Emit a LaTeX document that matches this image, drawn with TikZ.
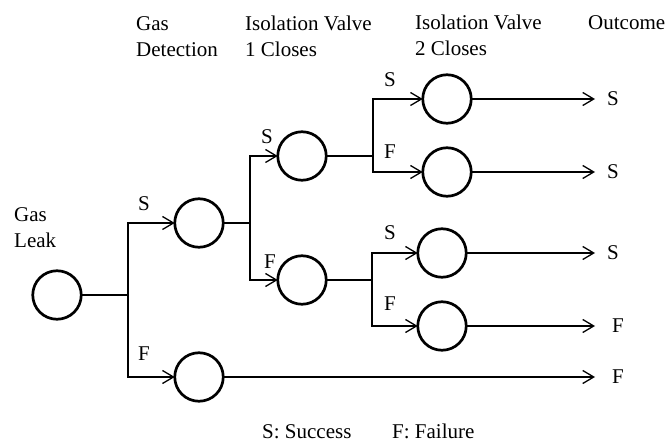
\documentclass[tikz,border=0pt]{standalone}
\usepackage{fontspec}
\setmainfont{Liberation Serif}
\newfontfamily\tmsfont{Liberation Serif}
\usetikzlibrary{arrows.meta}
\begin{document}
\begin{tikzpicture}[x=1pt,y=-1pt,
  evt/.style={circle,draw,line width=2.7pt,minimum size=48.5pt,inner sep=0pt,outer sep=0pt},
  conn/.style={line width=1.3pt},
  arr/.style={conn,-{Straight Barb[length=11pt,width=13pt,line width=1.3pt]}},
  lbl/.style={inner sep=0pt,font=\tmsfont\fontsize{21}{26}\selectfont},
  every node/.style={font=\tmsfont\fontsize{21}{26}\selectfont}]
\useasboundingbox (0,0) rectangle (669,443);
% headers
\node[lbl,anchor=base west] (hl1) at (14,222) {Gas};
\node[lbl,anchor=base west] (hl2) at (14,248) {Leak};
\node[lbl,anchor=base west] (hd1) at (136,31) {Gas};
\node[lbl,anchor=base west] (hd2) at (136,57) {Detection};
\node[lbl,anchor=base west] (hv1) at (245,31) {Isolation Valve};
\node[lbl,anchor=base west] (hv2) at (245,57) {1 Closes};
\node[lbl,anchor=base west] (hw1) at (415,30) {Isolation Valve};
\node[lbl,anchor=base west] (hw2) at (415,56) {2 Closes};
\node[lbl,anchor=base west] (ho) at (588,30) {Outcome};
% event circles
\node[evt] (leak) at (57,295) {};
\node[evt] (d1) at (199,223) {};
\node[evt] (d2) at (199,377) {};
\node[evt] (v1a) at (302,156) {};
\node[evt] (v1b) at (302,280) {};
\node[evt] (v2a) at (447,99) {};
\node[evt] (v2b) at (447,172) {};
\node[evt] (v2c) at (442,253) {};
\node[evt] (v2d) at (442,326) {};
% junctions and ends
\coordinate (j0) at (128,295);
\coordinate (j1) at (250,223);
\coordinate (j2) at (373,156);
\coordinate (j3) at (372,280);
\coordinate (o1) at (595,99);
\coordinate (o2) at (595,172);
\coordinate (o3) at (595,253);
\coordinate (o4) at (595,326);
\coordinate (o5) at (595,377);
% connectors
\draw[conn] (leak) -- (j0);
\draw[arr] (j0) |- (d1);
\draw[arr] (j0) |- (d2);
\draw[conn] (d1) -- (j1);
\draw[arr] (j1) |- (v1a);
\draw[arr] (j1) |- (v1b);
\draw[conn] (v1a) -- (j2);
\draw[arr] (j2) |- (v2a);
\draw[arr] (j2) |- (v2b);
\draw[conn] (v1b) -- (j3);
\draw[arr] (j3) |- (v2c);
\draw[arr] (j3) |- (v2d);
\draw[arr] (v2a) -- (o1);
\draw[arr] (v2b) -- (o2);
\draw[arr] (v2c) -- (o3);
\draw[arr] (v2d) -- (o4);
\draw[arr] (d2) -- (o5);
% branch labels
\node[lbl] (s0) at (144,204) {S};
\node[lbl] (f0) at (144,354) {F};
\node[lbl] (s1) at (267,137) {S};
\node[lbl] (f1) at (270,262) {F};
\node[lbl] (s2) at (390,80) {S};
\node[lbl] (f2) at (390,152) {F};
\node[lbl] (s3) at (390,233) {S};
\node[lbl] (f3) at (390,304) {F};
% outcomes
\node[lbl] (r1) at (613,99) {S};
\node[lbl] (r2) at (613,172) {S};
\node[lbl] (r3) at (613,253) {S};
\node[lbl] (r4) at (618,326) {F};
\node[lbl] (r5) at (618,377) {F};
% legend
\node[lbl,anchor=base west] (legS) at (262,438) {S: Success};
\node[lbl,anchor=base west] (legF) at (392,438) {F: Failure};
\end{tikzpicture}
\end{document}
